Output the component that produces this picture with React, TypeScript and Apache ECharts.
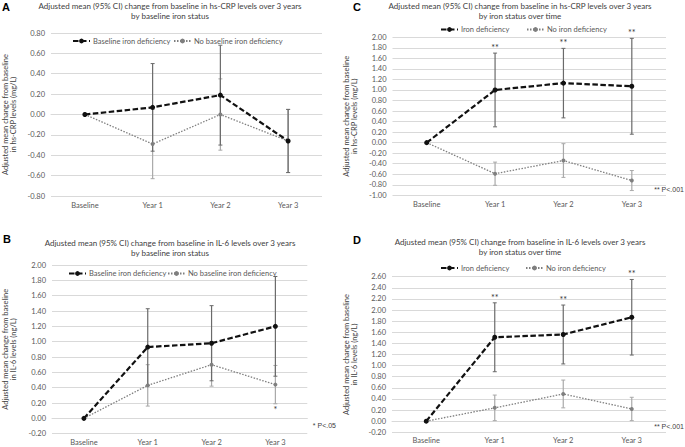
import React, { useEffect, useRef } from "react";
import * as echarts from "echarts";

const categories = ["Baseline", "Year 1", "Year 2", "Year 3"];

// Panel A: hs-CRP by baseline iron status
const aIronDef = [0, 0.07, 0.19, -0.26];
const aIronDefLow = [0, -0.36, -0.3, -0.57];
const aIronDefHigh = [0, 0.5, 0.68, 0.05];
const aNoIronDef = [0, -0.29, 0.0, -0.26];
const aNoIronDefLow = [0, -0.63, -0.35, -0.57];
const aNoIronDefHigh = [0, 0.05, 0.35, 0.05];

// Panel B: IL-6 by baseline iron status
const bIronDef = [0, 0.93, 0.98, 1.2];
const bIronDefLow = [0, 0.43, 0.49, 0.55];
const bIronDefHigh = [0, 1.43, 1.47, 1.85];
const bNoIronDef = [0, 0.43, 0.7, 0.44];
const bNoIronDefLow = [0, 0.16, 0.42, 0.19];
const bNoIronDefHigh = [0, 0.7, 0.98, 0.69];
const bNoSig = ["", "", "", "*"];

// Panel C: hs-CRP by iron status over time
const cIronDef = [0, 1.0, 1.13, 1.07];
const cIronDefLow = [0, 0.3, 0.47, 0.16];
const cIronDefHigh = [0, 1.7, 1.79, 1.98];
const cNoIronDef = [0, -0.59, -0.34, -0.72];
const cNoIronDefLow = [0, -0.81, -0.66, -0.91];
const cNoIronDefHigh = [0, -0.37, -0.02, -0.53];
const cIronSig = ["", "**", "**", "**"];

// Panel D: IL-6 by iron status over time
const dIronDef = [0, 1.51, 1.56, 1.87];
const dIronDefLow = [0, 0.89, 1.03, 1.19];
const dIronDefHigh = [0, 2.13, 2.09, 2.55];
const dNoIronDef = [0, 0.24, 0.49, 0.22];
const dNoIronDefLow = [0, 0.01, 0.24, 0.01];
const dNoIronDefHigh = [0, 0.47, 0.74, 0.43];
const dIronSig = ["", "**", "**", "**"];

const FONT = "Lato, 'Open Sans', sans-serif";
const ARIAL = "'Liberation Sans', Arial, sans-serif";
const TXT = "#595959";
const GRID = "#d9d9d9";
const BLACK = "#111111";
const GRAY = "#7f7f7f";
const ERR_DARK = "#6a6a6a";
const ERR_LIGHT = "#a9a9a9";

function errData(low: number[], high: number[]) {
  return categories.map((_, i) => [i, low[i], high[i]]).slice(1);
}
function sigData(sig: string[], low: number[], high: number[], below: boolean) {
  return sig
    .map((s, i) => [i, below ? low[i] : high[i], s])
    .filter((d) => d[2] !== "");
}

function errRender(color: string) {
  return (params: any, api: any) => {
    const x = api.value(0);
    const lo = api.coord([x, api.value(1)]);
    const hi = api.coord([x, api.value(2)]);
    const w = 2;
    return {
      type: "group",
      children: [
        { type: "line", shape: { x1: lo[0], y1: lo[1], x2: hi[0], y2: hi[1] }, style: { stroke: color, lineWidth: 1.2 } },
        { type: "line", shape: { x1: lo[0] - w, y1: lo[1], x2: lo[0] + w, y2: lo[1] }, style: { stroke: color, lineWidth: 1 } },
        { type: "line", shape: { x1: hi[0] - w, y1: hi[1], x2: hi[0] + w, y2: hi[1] }, style: { stroke: color, lineWidth: 1 } },
      ],
    };
  };
}

type Panel = {
  grid: any;
  min: number;
  max: number;
  axisName: string;
  nameGap: number;
  labelMargin: number;
  names: [string, string];
  iron: number[];
  ironLow: number[];
  ironHigh: number[];
  no: number[];
  noLow: number[];
  noHigh: number[];
  legendTop: number;
  legendLeft: [number, number];
  sig?: { text: string[]; onIron: boolean; below: boolean };
};

const panels: Panel[] = [
  {
    grid: { left: 44, top: 33, width: 278, height: 163 },
    min: -0.8, max: 0.8,
    axisName: "Adjusted mean change from baseline\nin hs-CRP levels (mg/L)",
    nameGap: 33, labelMargin: 5,
    names: ["Baseline iron deficiency", "No baseline iron deficiency"],
    iron: aIronDef, ironLow: aIronDefLow, ironHigh: aIronDefHigh,
    no: aNoIronDef, noLow: aNoIronDefLow, noHigh: aNoIronDefHigh,
    legendTop: 37, legendLeft: [72, 173],
  },
  {
    grid: { left: 392.5, top: 37.3, width: 273.5, height: 158 },
    min: -1.0, max: 2.0,
    axisName: "Adjusted mean change from baseline\nin hs-CRP levels (mg/L)",
    nameGap: 33.5, labelMargin: 5,
    names: ["Iron deficiency", "No iron deficiency"],
    iron: cIronDef, ironLow: cIronDefLow, ironHigh: cIronDefHigh,
    no: cNoIronDef, noLow: cNoIronDefLow, noHigh: cNoIronDefHigh,
    legendTop: 25.5, legendLeft: [440, 526],
    sig: { text: cIronSig, onIron: true, below: false },
  },
  {
    grid: { left: 43, top: 265, width: 264.3, height: 168.7 },
    min: -0.2, max: 2.0,
    axisName: "Adjusted mean change from baseline\nin IL-6 levels (ng/L)",
    nameGap: 34, labelMargin: 5,
    names: ["Baseline iron deficiency", "No baseline iron deficiency"],
    iron: bIronDef, ironLow: bIronDefLow, ironHigh: bIronDefHigh,
    no: bNoIronDef, noLow: bNoIronDefLow, noHigh: bNoIronDefHigh,
    legendTop: 269.5, legendLeft: [68, 167],
    sig: { text: bNoSig, onIron: false, below: true },
  },
  {
    grid: { left: 392, top: 276.7, width: 274, height: 155.6 },
    min: -0.2, max: 2.6,
    axisName: "Adjusted mean change from baseline\nin IL-6 levels (ng/L)",
    nameGap: 33, labelMargin: 4,
    names: ["Iron deficiency", "No iron deficiency"],
    iron: dIronDef, ironLow: dIronDefLow, ironHigh: dIronDefHigh,
    no: dNoIronDef, noLow: dNoIronDefLow, noHigh: dNoIronDefHigh,
    legendTop: 264, legendLeft: [440, 525],
    sig: { text: dIronSig, onIron: true, below: false },
  },
];

const titles = [
  { x: 170, y: 1.5, text: "Adjusted mean (95% CI) change from baseline in hs-CRP levels over 3 years\nby baseline iron status" },
  { x: 520, y: 1, text: "Adjusted mean (95% CI) change from baseline in hs-CRP levels over 3 years\nby iron status over time" },
  { x: 170, y: 238.5, text: "Adjusted mean (95% CI) change from baseline in IL-6 levels over 3 years\nby baseline iron status" },
  { x: 520, y: 237, text: "Adjusted mean (95% CI) change from baseline in IL-6 levels over 3 years\nby iron status over time" },
];
const letters = [
  { x: 2, y: 1, text: "A" },
  { x: 353, y: 1, text: "C" },
  { x: 3, y: 233, text: "B" },
  { x: 353, y: 234, text: "D" },
];
const notes = [
  { x: 684, y: 189, text: "** P<.001" },
  { x: 336, y: 425.7, text: "* P<.05" },
  { x: 684, y: 426.7, text: "** P<.001" },
];

export default function App() {
  const ref = useRef<HTMLDivElement>(null);
  useEffect(() => {
    document.body.style.margin = "0";
    const chart = echarts.init(ref.current!, null, { renderer: "svg" });
    const grid: any[] = [];
    const xAxis: any[] = [];
    const yAxis: any[] = [];
    const series: any[] = [];
    const legend: any[] = [];

    panels.forEach((p, k) => {
      grid.push({ ...p.grid, containLabel: false });
      xAxis.push({
        type: "category",
        gridIndex: k,
        data: categories,
        boundaryGap: true,
        axisLine: { show: true, lineStyle: { color: GRID } },
        axisTick: { show: false },
        axisLabel: { color: TXT, fontSize: 7.5, fontFamily: FONT, margin: p.labelMargin },
      });
      yAxis.push({
        type: "value",
        gridIndex: k,
        min: p.min,
        max: p.max,
        interval: 0.2,
        axisLine: { show: false },
        axisTick: { show: false },
        splitLine: { show: true, lineStyle: { color: GRID, width: 1 } },
        axisLabel: {
          color: TXT, fontSize: 7.5, fontFamily: FONT, margin: 6,
          formatter: (v: number) => v.toFixed(2),
        },
        name: p.axisName,
        nameLocation: "middle",
        nameGap: p.nameGap,
        nameTextStyle: { color: "#404040", fontSize: 7.5, fontFamily: FONT, lineHeight: 8.5 },
      });
      series.push({
        type: "custom",
        xAxisIndex: k, yAxisIndex: k,
        renderItem: errRender(ERR_LIGHT),
        data: errData(p.noLow, p.noHigh),
        z: 1,
        silent: true,
      });
      series.push({
        type: "custom",
        xAxisIndex: k, yAxisIndex: k,
        renderItem: errRender(ERR_DARK),
        data: errData(p.ironLow, p.ironHigh),
        z: 1,
        silent: true,
      });
      series.push({
        type: "line",
        name: p.names[1],
        xAxisIndex: k, yAxisIndex: k,
        data: p.no,
        symbol: "circle",
        symbolSize: 4,
        itemStyle: { color: GRAY },
        lineStyle: { color: GRAY, width: 1.3, type: [1.5, 1.5] },
        z: 3,
      });
      series.push({
        type: "line",
        name: p.names[0],
        xAxisIndex: k, yAxisIndex: k,
        data: p.iron,
        symbol: "circle",
        symbolSize: 5,
        itemStyle: { color: BLACK },
        lineStyle: { color: BLACK, width: 2.2, type: [5.5, 2.5] },
        z: 4,
      });
      if (p.sig) {
        const sg = p.sig;
        const lo = sg.onIron ? p.ironLow : p.noLow;
        const hi = sg.onIron ? p.ironHigh : p.noHigh;
        const data = sigData(sg.text, lo, hi, sg.below);
        series.push({
          type: "custom",
          xAxisIndex: k, yAxisIndex: k,
          clip: false,
          silent: true,
          z: 5,
          data: data.map((d) => [d[0], d[1]]),
          renderItem: (params: any, api: any) => {
            const pt = api.coord([api.value(0), api.value(1)]);
            return {
              type: "text",
              x: pt[0],
              y: sg.below ? pt[1] + 1 : pt[1] - 1,
              style: {
                text: String(data[params.dataIndex][2]),
                textAlign: "center",
                textVerticalAlign: sg.below ? "top" : "bottom",
                fontSize: 9,
                fill: "#333",
                fontFamily: FONT,
              },
            };
          },
        });
      }
      p.names.forEach((n, j) => {
        legend.push({
          data: [n],
          left: p.legendLeft[j],
          top: p.legendTop,
          itemWidth: 17,
          itemHeight: 6,
          itemGap: 2,
          textStyle: { color: TXT, fontSize: 7.5, fontFamily: FONT, padding: [0, 0, 0, -2] },
          selectedMode: false,
          padding: 0,
        });
      });
    });

    const graphic: any[] = [];
    titles.forEach((t) =>
      graphic.push({
        type: "text", x: t.x, y: t.y,
        style: { text: t.text, textAlign: "center", textVerticalAlign: "top", fontSize: 8, lineHeight: 9.7, fill: "#404040", fontFamily: FONT },
      })
    );
    letters.forEach((t) =>
      graphic.push({
        type: "text", x: t.x, y: t.y,
        style: { text: t.text, fontSize: 11, fontWeight: "bold", fill: "#000", fontFamily: ARIAL },
      })
    );
    notes.forEach((t) =>
      graphic.push({
        type: "text", x: t.x, y: t.y,
        style: { text: t.text, textAlign: "right", textVerticalAlign: "middle", fontSize: 7, fill: "#404040", fontFamily: ARIAL },
      })
    );

    chart.setOption({
      animation: false,
      backgroundColor: "#ffffff",
      grid,
      xAxis,
      yAxis,
      legend,
      series,
      graphic,
    });
    return () => chart.dispose();
  }, []);
  return <div ref={ref} style={{ width: 685, height: 447 }} />;
}
